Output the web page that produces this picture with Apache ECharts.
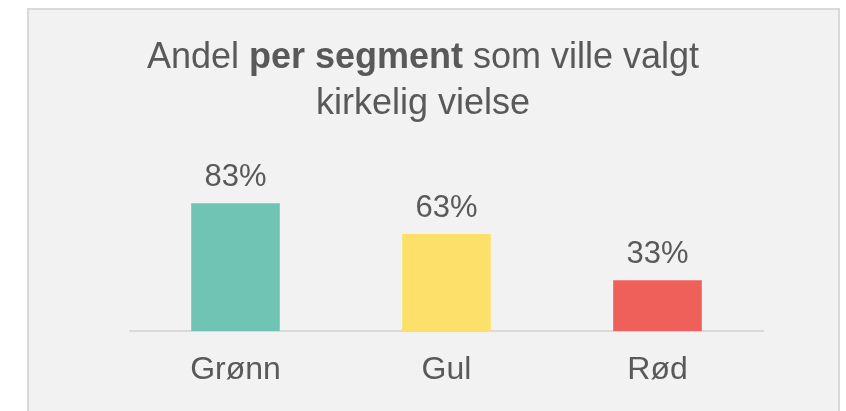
<!DOCTYPE html>
<html>
<head>
<meta charset="utf-8">
<script src="https://cdn.jsdelivr.net/npm/echarts@6/dist/echarts.min.js"></script>
<style>
    html, body { margin: 0; padding: 0; background: #ffffff; overflow: hidden; }
    .frame {
        position: absolute;
        left: 27px;
        top: 8px;
        width: 809px;
        height: 420px;
        border: 2px solid #d9d9d9;
        background-color: #f2f2f2;
    }
    #chart { position: absolute; left: 0; top: 0; width: 846px; height: 411px; }
</style>
</head>
<body>
<div class="frame"></div>
<div id="chart"></div>
<script>
const categories = ['Grønn', 'Gul', 'Rød'];
const shares = [83, 63, 33];
const barColors = ['#6fc4b4', '#fde06a', '#f0605a'];

var myChart = echarts.init(document.getElementById('chart'));

myChart.setOption({
    backgroundColor: 'transparent',
    title: {
        text: 'Andel {b|per segment} som ville valgt\nkirkelig vielse',
        left: 'center',
        top: 30,
        textStyle: {
            fontFamily: 'Liberation Sans',
            fontSize: 36,
            fontWeight: 'normal',
            color: '#595959',
            lineHeight: 46,
            rich: {
                b: {
                    fontFamily: 'Liberation Sans',
                    fontSize: 36,
                    fontWeight: 'bold',
                    color: '#595959',
                    lineHeight: 46
                }
            }
        }
    },
    grid: {
        left: 130,
        right: 83,
        top: 177,
        bottom: 80
    },
    xAxis: {
        type: 'category',
        data: categories,
        axisLine: { lineStyle: { color: '#d9d9d9', width: 2 } },
        axisTick: { show: false },
        axisLabel: {
            margin: 23,
            fontFamily: 'Liberation Sans',
            fontSize: 32,
            color: '#595959'
        }
    },
    yAxis: {
        type: 'value',
        min: 0,
        max: 100,
        show: false,
        splitLine: { show: false }
    },
    series: [
        {
            type: 'bar',
            barWidth: '42%',
            data: shares.map((v, i) => ({ value: v, itemStyle: { color: barColors[i] } })),
            label: {
                show: true,
                position: 'top',
                distance: 10,
                formatter: '{c}%',
                fontFamily: 'Liberation Sans',
                fontSize: 31,
                color: '#595959'
            }
        }
    ]
});
</script>
</body>
</html>
